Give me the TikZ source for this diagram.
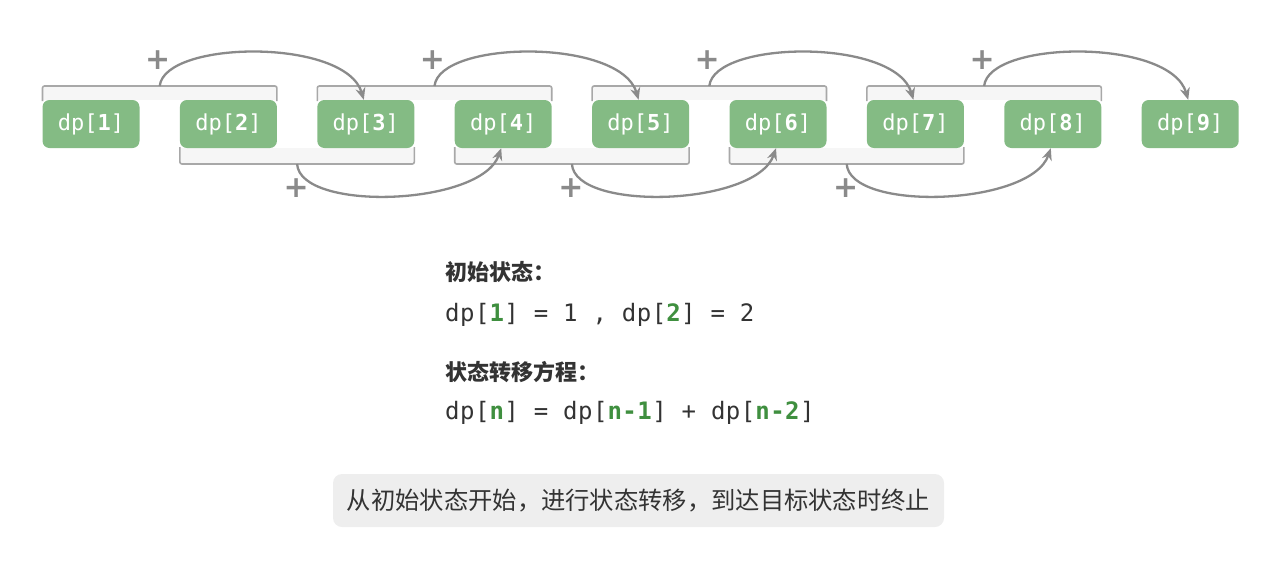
\documentclass[tikz,border=0pt]{standalone}
\usepackage{fontspec}
\newfontfamily\cjk{Noto Sans CJK SC}
\newfontfamily\mono{DejaVu Sans Mono}
\newfontfamily\monowide{DejaVu Sans Mono}[LetterSpace=2]
\newfontfamily\plusfont{DejaVu Sans}[BoldFont={DejaVu Sans Bold}]
\usetikzlibrary{arrows.meta}
\definecolor{nodegreen}{HTML}{84BB84}
\definecolor{txtgreen}{HTML}{3F8F3F}
\definecolor{ink}{HTML}{333333}
\definecolor{arcgray}{HTML}{8A8A8A}
\definecolor{brgray}{HTML}{A8A8A8}
\definecolor{brfill}{HTML}{F6F6F6}
\definecolor{boxfill}{HTML}{EEEEEE}
\tikzset{
  dpbox/.style={fill=nodegreen, rounded corners=7pt, minimum width=97pt,
    minimum height=48pt, inner sep=0pt, text=white, font=\mono\fontsize{22}{24}\selectfont},
  bracketline/.style={draw=brgray, line width=1.6pt, rounded corners=2pt},
  addarc/.style={draw=arcgray, line width=2.3pt, -{Stealth[length=12pt,width=10pt]}},
  plus/.style={text=arcgray, font=\plusfont\bfseries\fontsize{30}{30}\selectfont, inner sep=0pt},
  heading/.style={anchor=west, inner sep=0pt, text=ink, font=\cjk\bfseries\fontsize{22}{26}\selectfont},
  formula/.style={anchor=west, inner sep=0pt, text=ink, font=\monowide\fontsize{24}{28}\selectfont},
}
\newcommand{\gn}[1]{\textcolor{txtgreen}{\textbf{#1}}}
\begin{document}
\begin{tikzpicture}[x=1pt, y=-1pt]
\useasboundingbox (0,0) rectangle (1280,576);

% top brackets over pairs (1,2),(3,4),(5,6),(7,8)
\foreach \i in {1,3,5,7}{
  \pgfmathsetmacro{\xl}{91+(\i-1)*137.4-48.5}
  \pgfmathsetmacro{\xr}{91+\i*137.4+48.5}
  \fill[brfill] (\xl,86) rectangle (\xr,100);
  \draw[bracketline] (\xl,101) -- (\xl,86) -- (\xr,86) -- (\xr,101);
  \coordinate (t\i) at ({(\xl+\xr)/2},86);
}
% bottom brackets under pairs (2,3),(4,5),(6,7)
\foreach \i in {2,4,6}{
  \pgfmathsetmacro{\xl}{91+(\i-1)*137.4-48.5}
  \pgfmathsetmacro{\xr}{91+\i*137.4+48.5}
  \fill[brfill] (\xl,148) rectangle (\xr,164);
  \draw[bracketline] (\xl,147) -- (\xl,164) -- (\xr,164) -- (\xr,147);
  \coordinate (b\i) at ({(\xl+\xr)/2},164);
}

% states
\foreach \i in {1,...,9}{
  \node[dpbox] (n\i) at ({91+(\i-1)*137.4},124) {dp[\textbf{\i}]};
}

% transitions: dp[i] + dp[i+1] -> dp[i+2]
\foreach \i [evaluate=\i as \k using int(\i+2)] in {1,3,5,7}{
  \draw[addarc] (t\i) .. controls +(5,-46) and +(-18,-62) .. ([xshift=-2pt]n\k.north);
  \node[plus] at ([xshift=-2pt,yshift=26pt]t\i) {+};
}
\foreach \i [evaluate=\i as \k using int(\i+2)] in {2,4,6}{
  \draw[addarc] (b\i) .. controls +(3,48) and +(-20,58) .. ([xshift=-2pt]n\k.south);
  \node[plus] at ([xshift=-1pt,yshift=-24pt]b\i) {+};
}

% description
\node[heading] (h1) at (445,272) {初始状态：};
\node[formula] (f1) at (445,315) {dp[\gn{1}] = 1 , dp[\gn{2}] = 2};
\node[heading] (h2) at (445,372) {状态转移方程：};
\node[formula] (f2) at (445,413) {dp[\gn{n}] = dp[\gn{n-1}] + dp[\gn{n-2}]};

\node[fill=boxfill, rounded corners=9pt, minimum width=611pt, minimum height=53pt,
  inner sep=0pt, text=ink, font=\cjk\fontsize{24.3}{26}\selectfont]
  (note) at (638.5,500.5) {从初始状态开始，进行状态转移，到达目标状态时终止};
\end{tikzpicture}
\end{document}
